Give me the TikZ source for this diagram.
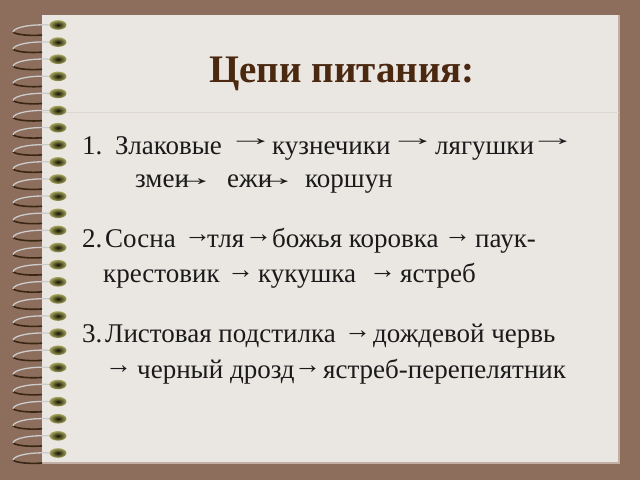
\documentclass[tikz,border=0pt]{standalone}
\usepackage{fontspec}
\usepackage{graphicx}
\setmainfont{Liberation Serif}
\definecolor{bgbrown}{HTML}{8D6E5D}
\definecolor{paper}{HTML}{EAE6E2}
\definecolor{titlebrown}{HTML}{4B2810}
\definecolor{txt}{HTML}{1A1A1A}
\definecolor{edge}{HTML}{C4AFA5}
\definecolor{sep}{HTML}{DDD6CE}
\newcommand{\longarr}{\scalebox{1.75}[0.85]{→}}
\begin{document}
\begin{tikzpicture}[x=1pt,y=1pt,
  word/.style={anchor=base west,inner sep=0pt,text=txt,font=\fontsize{27}{30}\selectfont},
  arrw/.style={anchor=west,inner sep=0pt,text=txt,font=\fontsize{27}{30}\selectfont},
  ttl/.style={anchor=base west,inner sep=0pt,text=titlebrown,font=\fontsize{39}{42}\selectfont\bfseries}]
\useasboundingbox (0,0) rectangle (640,480);
\fill[bgbrown] (0,0) rectangle (640,480);
\fill[paper] (42,17) rectangle (619,465);
\draw[edge,line width=1.5pt] (42,17) -- (619,17) -- (619,465);
\draw[sep,line width=0.8pt] (42,368) -- (619,368);
% binding rings
\foreach \i in {0,...,25}{
  \pgfmathsetmacro{\yy}{455-17.12*\i}
  \draw[black!70!brown,line width=1.6pt] (13,\yy-7) .. controls (16,\yy-10) and (32,\yy-11) .. (42,\yy-10);
  \draw[gray!40!white,line width=1.3pt] (50,\yy) .. controls (32,\yy+1) and (14,\yy-2) .. (13,\yy-7);
  \shade[inner color=black!85!olive,outer color=gray!60!olive!70] (58,\yy) ellipse [x radius=8.5,y radius=4.8];
}
% title
\node[ttl] (title) at (209,397) {Цепи питания:};
% line 1
\node[word] (n1) at (82,325) {1.};
\node[word] (w11) at (115,325) {Злаковые};
\node[arrw] (a11) at (227,338) {\longarr};
\node[word] (w12) at (272,325) {кузнечики};
\node[arrw] (a12) at (389,338) {\longarr};
\node[word] (w13) at (435,325) {лягушки};
\node[arrw] (a13) at (529,338) {\longarr};
\node[word] (w14) at (135,292) {змеи};
\node[arrw] (a14) at (168,298) {\longarr};
\node[word] (w15) at (227,292) {ежи};
\node[arrw] (a15) at (250,298) {\longarr};
\node[word] (w16) at (305,292) {коршун};
% line 2
\node[word] (n2) at (82,233) {2.};
\node[word] (w21) at (105,233) {Сосна};
\node[arrw] (a21) at (184,241) {→};
\node[word] (w22) at (207,233) {тля};
\node[arrw] (a22) at (245,241) {→};
\node[word] (w23) at (272,233) {божья коровка};
\node[arrw] (a23) at (444,241) {→};
\node[word] (w24) at (475,233) {паук-};
\node[word] (w25) at (103,197) {крестовик};
\node[arrw] (a24) at (227,205) {→};
\node[word] (w26) at (258,197) {кукушка};
\node[arrw] (a25) at (369,205) {→};
\node[word] (w27) at (400,197) {ястреб};
% line 3
\node[word] (n3) at (82,138) {3.};
\node[word] (w31) at (105,138) {Листовая подстилка};
\node[arrw] (a31) at (344,145) {→};
\node[word] (w32) at (373,138) {дождевой червь};
\node[arrw] (a32) at (105,110) {→};
\node[word] (w33) at (137,102) {черный дрозд};
\node[arrw] (a33) at (294,110) {→};
\node[word] (w34) at (323,102) {ястреб-перепелятник};
\end{tikzpicture}
\end{document}
